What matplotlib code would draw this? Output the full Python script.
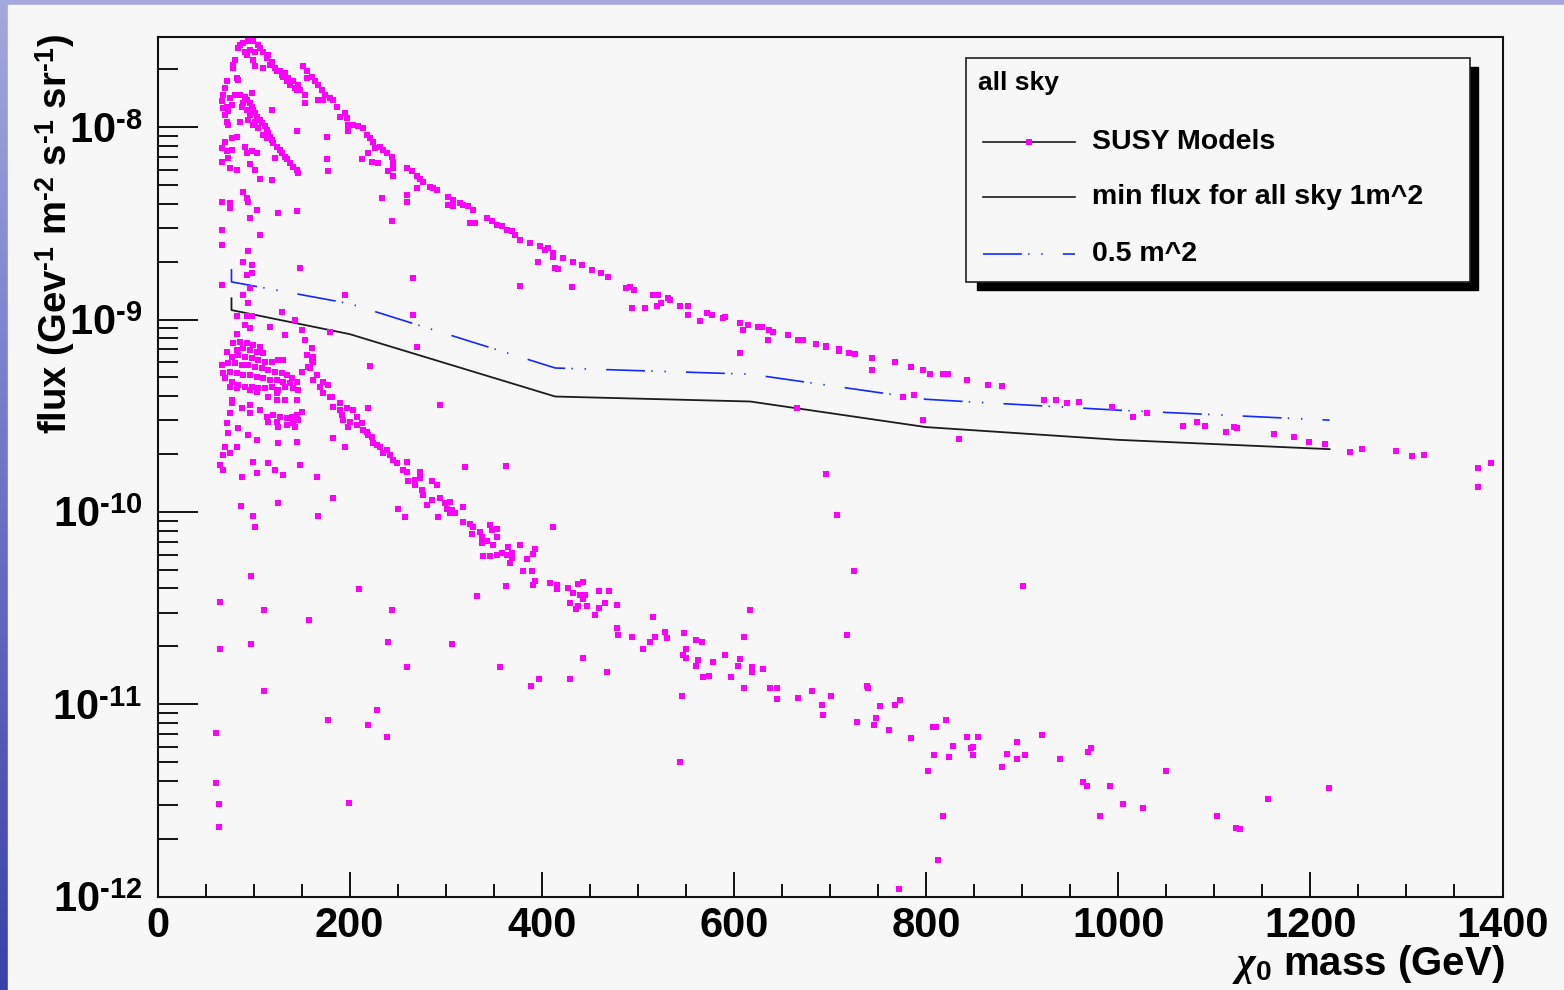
import numpy as np
import matplotlib
matplotlib.use("Agg")
import matplotlib.pyplot as plt
from matplotlib.patches import Rectangle
from matplotlib.lines import Line2D
from matplotlib.colors import LinearSegmentedColormap
from matplotlib.ticker import MultipleLocator, LogLocator, FuncFormatter, NullFormatter

plt.rcParams["font.family"] = ["Liberation Sans", "DejaVu Sans"]
plt.rcParams["font.weight"] = "bold"
plt.rcParams["mathtext.fontset"] = "custom"
plt.rcParams["mathtext.rm"] = "Liberation Sans:bold"
plt.rcParams["mathtext.bf"] = "Liberation Sans:bold"
plt.rcParams["mathtext.it"] = "Liberation Serif:italic"
plt.rcParams["lines.scale_dashes"] = False

# ---- SUSY model points (mass in GeV, flux in GeV^-1 m^-2 s^-1 sr^-1) ----
peak_mass = [84.1, 89.3, 94.5, 99.7, 104.9, 96.3, 101.5, 91.0, 110.1, 113.6,
             80.6, 92.8, 99.7, 118.8, 122.3, 127.5, 131.0, 136.2, 137.9, 143.1,
             148.3, 110.1, 101.5, 124.0, 132.7, 141.4, 146.6, 85.8, 106.7, 115.3,
             117.1, 129.2, 134.4, 144.9]
peak_flux = [2.58e-8, 2.74e-8, 2.81e-8, 2.79e-8, 2.68e-8, 2.52e-8, 2.47e-8, 2.47e-8, 2.47e-8, 2.29e-8,
             2.24e-8, 2.38e-8, 2.24e-8, 2.19e-8, 2.03e-8, 1.95e-8, 1.83e-8, 1.80e-8, 1.66e-8, 1.60e-8,
             1.56e-8, 2.03e-8, 2.07e-8, 1.95e-8, 1.91e-8, 1.73e-8, 1.66e-8, 2.68e-8, 2.58e-8, 2.38e-8,
             2.11e-8, 1.87e-8, 1.73e-8, 1.56e-8]

inner_mass = [80.6, 85.8, 91.0, 92.8, 96.3, 98.0, 99.7, 101.5, 103.2, 106.7,
              108.4, 111.9, 113.6, 115.3, 117.1, 118.8, 120.5, 124.0, 127.5, 129.2,
              132.7, 134.4, 137.9, 141.4, 144.9, 146.6, 99.7, 104.9, 110.1, 113.6,
              89.3, 92.8, 96.3, 98.0, 85.8, 118.8, 87.6, 94.5, 101.5]
inner_flux = [1.47e-8, 1.47e-8, 1.44e-8, 1.39e-8, 1.33e-8, 1.28e-8, 1.23e-8, 1.18e-8, 1.135e-8, 1.09e-8,
              1.05e-8, 1.01e-8, 9.7e-9, 9.3e-9, 8.9e-9, 8.6e-9, 8.3e-9, 7.9e-9, 7.6e-9, 7.3e-9,
              7.0e-9, 6.8e-9, 6.5e-9, 6.24e-9, 6.0e-9, 5.8e-9, 1.03e-8, 9.9e-9, 9.1e-9, 8.8e-9,
              1.33e-8, 1.23e-8, 1.16e-8, 1.50e-8, 1.07e-8, 1.23e-8, 1.28e-8, 1.09e-8, 1.07e-8]

left_mass = [72.0, 70.2, 68.5, 66.8, 68.5, 70.2, 72.0, 73.7, 78.9, 78.9,
             77.2, 75.4, 73.7, 72.0, 82.4, 84.1, 70.2, 77.2, 82.4, 66.8,
             72.0, 77.2, 73.7, 66.8, 75.4, 82.4, 91.0, 92.8, 98.0, 103.2,
             96.3, 101.5, 106.7, 118.8, 122.3, 89.3, 92.8, 94.5, 66.8, 75.4,
             75.4, 103.2, 96.3, 125.8, 144.9, 66.8, 106.7, 66.8, 94.5, 89.3,
             98.0, 92.8, 98.0, 66.8, 96.3, 89.3, 94.5, 129.2]
left_flux = [1.73e-8, 1.60e-8, 1.47e-8, 1.36e-8, 1.26e-8, 1.16e-8, 1.07e-8, 1.03e-8, 2.11e-8, 2.03e-8,
             1.31e-8, 1.42e-8, 1.21e-8, 1.28e-8, 1.80e-8, 1.76e-8, 8.4e-9, 8.8e-9, 8.9e-9, 7.8e-9,
             7.5e-9, 7.6e-9, 6.9e-9, 6.6e-9, 6.1e-9, 6.0e-9, 7.9e-9, 7.3e-9, 7.5e-9, 7.3e-9,
             6.4e-9, 6.0e-9, 5.4e-9, 5.3e-9, 6.9e-9, 4.62e-9, 4.27e-9, 4.10e-9, 4.10e-9, 4.03e-9,
             3.79e-9, 3.72e-9, 3.37e-9, 3.57e-9, 3.65e-9, 2.92e-9, 2.75e-9, 2.44e-9, 2.26e-9, 2.00e-9,
             1.92e-9, 1.71e-9, 1.74e-9, 1.51e-9, 1.46e-9, 1.34e-9, 1.22e-9, 1.10e-9]

arc_mass = [151.8, 155.2, 160.4, 163.9, 167.4, 170.9, 174.3, 179.5, 183.0, 167.4,
            172.6, 186.5, 190.0, 195.1, 196.9, 198.6, 203.8, 209.0, 214.2, 217.7,
            221.2, 224.6, 226.4, 231.6, 235.1, 238.5, 243.7, 245.5, 245.5, 240.3,
            245.5, 259.3, 264.5, 269.8, 273.2, 276.7, 283.6, 287.1, 290.6, 302.7,
            307.9, 314.9, 318.3, 323.5, 328.7, 302.7, 307.9, 325.3, 330.5, 342.6,
            347.8, 353.0, 358.3, 363.4, 368.6, 372.1, 377.3, 387.7, 398.1, 403.4,
            406.8, 396.4,
            411.3, 411.3, 421.7, 432.8, 441.5, 413.7, 417.2, 431.1, 451.9, 461.6,
            469.2, 487.6, 491.8, 496.3, 516.1, 521.3, 531.7, 533.4, 493.5, 507.8,
            519.5, 523.7, 543.8, 552.5, 552.5, 564.7, 571.6, 576.8, 588.3, 590.7,
            606.3, 615.0, 609.1, 625.4, 628.9, 636.8, 641.0, 635.1, 606.3, 656.6,
            667.0, 672.2, 685.4, 695.5, 695.5, 709.7, 709.7, 720.1, 726.0, 743.7,
            743.7, 767.7, 784.0, 796.5, 804.1, 818.0, 823.2, 842.3, 864.8, 878.7,
            776.3, 787.4, 665.3, 796.5, 834.6,
            923.2, 935.3, 947.1, 959.2, 993.9, 1015.8, 1029.7, 1067.9, 1082.1, 1090.4,
            1112.3, 1120.6, 1123.4, 1162.6, 1183.1, 1199.0, 1215.3, 1241.4, 1253.5, 1289.6,
            1305.9, 1318.0, 1374.3, 1388.5, 1374.3]
arc_flux = [2.07e-8, 1.95e-8, 1.83e-8, 1.73e-8, 1.66e-8, 1.56e-8, 1.47e-8, 1.42e-8, 1.39e-8, 1.39e-8,
            1.39e-8, 1.28e-8, 1.135e-8, 1.18e-8, 1.11e-8, 1.03e-8, 1.03e-8, 1.01e-8, 9.9e-9, 9.1e-9,
            8.8e-9, 8.4e-9, 7.8e-9, 7.9e-9, 7.6e-9, 7.3e-9, 7.0e-9, 6.6e-9, 6.1e-9, 5.9e-9,
            5.6e-9, 6.1e-9, 5.9e-9, 5.6e-9, 5.4e-9, 5.2e-9, 4.9e-9, 4.8e-9, 4.7e-9, 4.36e-9,
            4.19e-9, 4.03e-9, 3.94e-9, 3.87e-9, 3.72e-9, 3.94e-9, 3.87e-9, 3.17e-9, 3.17e-9, 3.37e-9,
            3.24e-9, 3.10e-9, 3.05e-9, 2.92e-9, 2.87e-9, 2.75e-9, 2.59e-9, 2.49e-9, 2.40e-9, 2.30e-9,
            2.35e-9, 2.00e-9,
            2.21e-9, 2.12e-9, 2.10e-9, 1.98e-9, 1.92e-9, 1.85e-9, 1.84e-9, 1.48e-9, 1.80e-9, 1.75e-9,
            1.67e-9, 1.46e-9, 1.48e-9, 1.43e-9, 1.34e-9, 1.34e-9, 1.29e-9, 1.27e-9, 1.15e-9, 1.15e-9,
            1.17e-9, 1.22e-9, 1.17e-9, 1.18e-9, 1.06e-9, 9.8e-10, 1.08e-9, 1.06e-9, 1.02e-9, 1.03e-9,
            9.6e-10, 9.4e-10, 8.8e-10, 9.2e-10, 9.1e-10, 8.8e-10, 8.6e-10, 7.8e-10, 6.7e-10, 8.3e-10,
            7.8e-10, 7.8e-10, 7.5e-10, 7.3e-10, 7.2e-10, 7.0e-10, 6.9e-10, 6.7e-10, 6.6e-10, 6.3e-10,
            5.5e-10, 6.0e-10, 5.7e-10, 5.5e-10, 5.2e-10, 5.2e-10, 5.2e-10, 4.86e-10, 4.59e-10, 4.49e-10,
            3.98e-10, 4.07e-10, 3.46e-10, 3.0e-10, 2.39e-10,
            3.82e-10, 3.82e-10, 3.67e-10, 3.74e-10, 3.52e-10, 3.13e-10, 3.26e-10, 2.81e-10, 2.94e-10, 2.81e-10,
            2.61e-10, 2.77e-10, 2.72e-10, 2.55e-10, 2.44e-10, 2.30e-10, 2.25e-10, 2.04e-10, 2.12e-10, 2.08e-10,
            1.96e-10, 1.97e-10, 1.70e-10, 1.80e-10, 1.34e-10]

blob_mass = [82.4, 92.8, 98.0, 91.1, 96.3, 117.1, 143.1, 150.1, 132.7, 153.6, 179.6, 83.1,
             79.0, 85.9, 92.8, 99.8, 106.7, 82.4, 89.4, 96.3, 103.2, 110.2,
             72.0, 77.2, 84.2, 91.1, 98.0, 105.0, 111.9, 118.9, 125.8, 131.0,
             66.8, 73.7, 80.7, 87.6, 94.6, 101.5, 108.4, 115.4, 122.3, 129.3, 134.5, 139.7, 144.9,
             68.5, 75.5, 82.4, 89.4, 96.3, 103.2, 110.2, 117.1, 124.1, 131.0, 137.9, 141.4, 146.6,
             70.3, 77.2, 84.2, 91.1, 98.0, 105.0, 111.9, 118.9, 125.8, 132.7,
             75.5, 82.4, 96.3, 103.2, 124.1,
             77.2, 77.2, 87.6, 96.3, 106.7, 115.4, 124.1, 132.7, 144.9, 96.3,
             75.5, 72.0, 73.7, 70.3, 84.2, 94.6, 103.2, 113.7, 120.6, 127.5,
             134.5, 139.7, 144.9, 150.1, 115.4, 124.1, 134.5, 141.4, 146.6, 125.8,
             143.1, 125.8, 144.9, 82.4, 75.5, 68.5, 65.1, 68.5, 99.8, 115.4,
             122.3, 131.0, 148.4, 103.2, 87.6,
             155.3, 160.5, 157.0, 162.2, 150.1, 165.7, 162.2, 169.2, 172.6, 181.3,
             183.1, 190.0, 196.9, 193.5, 198.7, 195.2, 183.1, 165.7, 160.5,
             162.2, 158.8, 172.6, 177.8, 179.6, 190.0, 191.7, 200.4]
blob_flux = [1.04e-9, 1.04e-9, 1.04e-9, 9.4e-10, 9.0e-10, 9.2e-10, 9.95e-10, 8.8e-10, 8.3e-10, 7.8e-10, 8.6e-10, 8.4e-10,
             7.53e-10, 7.67e-10, 7.53e-10, 7.38e-10, 7.23e-10, 6.95e-10, 7.10e-10, 6.95e-10, 6.81e-10, 6.68e-10,
             6.81e-10, 6.41e-10, 6.55e-10, 6.41e-10, 6.30e-10, 6.17e-10, 6.04e-10, 6.04e-10, 6.17e-10, 6.17e-10,
             5.81e-10, 5.93e-10, 5.93e-10, 5.81e-10, 5.81e-10, 5.69e-10, 5.58e-10, 5.47e-10, 5.36e-10, 5.26e-10, 5.15e-10, 4.95e-10, 4.75e-10,
             5.26e-10, 5.36e-10, 5.26e-10, 5.15e-10, 5.15e-10, 5.05e-10, 4.95e-10, 4.85e-10, 4.85e-10, 4.75e-10, 4.67e-10, 4.40e-10, 4.31e-10,
             4.95e-10, 4.75e-10, 4.57e-10, 4.48e-10, 4.48e-10, 4.40e-10, 4.40e-10, 4.48e-10, 4.31e-10, 4.48e-10,
             4.48e-10, 4.40e-10, 4.31e-10, 4.22e-10, 4.14e-10,
             3.82e-10, 3.67e-10, 3.46e-10, 3.60e-10, 3.39e-10, 3.97e-10, 3.82e-10, 3.82e-10, 3.82e-10, 3.26e-10,
             3.26e-10, 2.89e-10, 2.56e-10, 2.18e-10, 2.72e-10, 2.51e-10, 2.37e-10, 3.13e-10, 3.19e-10, 3.13e-10,
             3.07e-10, 3.13e-10, 3.19e-10, 3.32e-10, 2.94e-10, 2.94e-10, 2.83e-10, 2.89e-10, 3.01e-10, 2.77e-10,
             2.77e-10, 2.28e-10, 2.32e-10, 2.18e-10, 2.02e-10, 1.98e-10, 1.75e-10, 1.65e-10, 1.82e-10, 1.79e-10,
             1.65e-10, 1.56e-10, 1.75e-10, 1.59e-10, 1.52e-10,
             6.55e-10, 6.17e-10, 5.69e-10, 6.41e-10, 5.36e-10, 5.15e-10, 4.85e-10, 4.48e-10, 4.14e-10, 3.97e-10,
             3.53e-10, 3.39e-10, 3.46e-10, 3.01e-10, 2.77e-10, 2.18e-10, 2.42e-10, 1.52e-10, 7.10e-10,
             6.04e-10, 5.58e-10, 4.75e-10, 4.57e-10, 3.97e-10, 3.67e-10, 3.19e-10, 2.94e-10]

tail_mass = [203.9, 207.3, 207.3, 214.3, 219.5, 223.0, 224.7, 231.6, 235.1, 242.0,
             249.0, 259.4, 255.9, 228.2, 238.6, 245.5, 217.8, 212.5,
             259.3, 273.2, 261.1, 268.0, 268.0, 273.2, 285.4, 290.6, 275.0, 276.7,
             280.2, 285.4, 294.0, 299.2, 304.5, 301.0, 306.2, 309.7, 304.5, 318.3,
             257.6, 292.3, 318.3, 325.3, 328.7, 327.0, 335.7, 337.4, 346.1, 347.8,
             353.0, 353.0, 342.6, 337.4, 349.6, 365.2, 377.3, 339.2, 346.1, 353.0,
             358.2, 363.4, 368.6, 368.6, 366.9, 392.9, 391.2, 384.3, 411.3, 380.8,
             389.5, 392.9, 391.2, 362.7, 332.9, 408.6, 415.5, 415.5, 427.6, 432.8,
             438.0, 443.2, 439.8, 445.0, 443.2, 429.4, 438.0, 435.6, 447.4, 459.9,
             470.0, 465.8, 459.9, 455.7, 477.9, 477.9, 479.7, 493.9, 505.7, 512.6,
             518.2, 516.1, 528.3, 530.0, 548.4, 550.1, 546.7, 550.1, 560.5, 566.4,
             563.0, 560.5, 578.6, 590.7, 606.3, 604.6, 610.9, 616.7, 618.5, 618.5,
             630.6, 568.2, 574.4, 596.6, 610.9, 637.6, 644.5, 645.2, 667.1, 681.3,
             691.4, 693.1, 701.4, 717.4, 725.4, 707.6, 695.5, 727.8, 738.2, 740.0,
             745.9, 747.9, 752.1, 761.8, 767.7, 772.9, 546.3, 544.2, 306.2, 260.0,
             356.5, 397.4, 388.8, 429.4, 443.2, 467.5,
             784.0, 807.6, 810.4, 820.5, 808.3, 802.4, 824.3, 828.4, 842.3, 854.5,
             846.5, 848.6, 848.6, 818.0, 812.1, 771.9, 878.8, 884.7, 894.7, 894.7,
             903.0, 900.6, 921.1, 939.5, 963.8, 968.0, 969.0, 971.4, 991.5, 981.1,
             1005.4, 1026.2, 1049.8, 1102.6, 1122.7, 1126.9, 1156.4, 1219.2]
tail_flux = [3.39e-10, 3.13e-10, 2.83e-10, 2.67e-10, 2.51e-10, 2.46e-10, 2.27e-10, 2.18e-10, 2.02e-10, 1.98e-10,
             1.79e-10, 1.82e-10, 1.65e-10, 2.23e-10, 2.10e-10, 1.86e-10, 2.61e-10, 2.89e-10,
             1.62e-10, 1.62e-10, 1.44e-10, 1.47e-10, 1.38e-10, 1.50e-10, 1.44e-10, 1.38e-10, 1.30e-10, 1.22e-10,
             1.09e-10, 1.15e-10, 1.18e-10, 1.11e-10, 1.13e-10, 1.04e-10, 1.02e-10, 9.84e-11, 9.84e-11, 1.06e-10,
             9.45e-11, 9.45e-11, 8.9e-11, 8.7e-11, 8.4e-11, 7.7e-11, 7.9e-11, 7.4e-11, 8.55e-11, 8.05e-11,
             8.2e-11, 7.4e-11, 7.1e-11, 6.9e-11, 6.7e-11, 6.6e-11, 6.7e-11, 5.9e-11, 5.9e-11, 5.97e-11,
             6.1e-11, 5.97e-11, 6.1e-11, 5.74e-11, 5.45e-11, 6.4e-11, 6.04e-11, 5.67e-11, 8.4e-11, 4.95e-11,
             4.95e-11, 4.4e-11, 4.17e-11, 4.12e-11, 3.66e-11, 4.29e-11, 4.17e-11, 3.96e-11, 4.04e-11, 3.8e-11,
             4.2e-11, 4.3e-11, 3.7e-11, 3.7e-11, 3.52e-11, 3.38e-11, 3.24e-11, 3.12e-11, 3.24e-11, 3.88e-11,
             3.88e-11, 3.38e-11, 3.16e-11, 2.91e-11, 3.28e-11, 2.48e-11, 2.29e-11, 2.25e-11, 1.95e-11, 2.11e-11,
             2.25e-11, 2.83e-11, 2.38e-11, 2.2e-11, 2.34e-11, 1.95e-11, 1.80e-11, 1.75e-11, 2.16e-11, 2.12e-11,
             1.69e-11, 1.59e-11, 1.66e-11, 1.8e-11, 1.73e-11, 1.59e-11, 2.25e-11, 3.09e-11, 1.56e-11, 1.47e-11,
             1.53e-11, 1.38e-11, 1.40e-11, 1.38e-11, 1.22e-11, 1.22e-11, 1.22e-11, 1.06e-11, 1.08e-11, 1.17e-11,
             9.95e-12, 8.83e-12, 1.10e-11, 2.29e-11, 4.95e-11, 9.6e-11, 1.57e-10, 8.1e-12, 1.24e-11, 1.22e-11,
             7.8e-12, 8.45e-12, 9.8e-12, 7.35e-12, 9.95e-12, 1.05e-11, 1.10e-11, 5.0e-12, 2.07e-11, 1.56e-11,
             1.56e-11, 1.35e-11, 1.24e-11, 1.35e-11, 1.75e-11, 1.47e-11,
             6.65e-12, 7.6e-12, 7.6e-12, 8.3e-12, 5.42e-12, 4.5e-12, 5.3e-12, 6.1e-12, 6.8e-12, 6.8e-12,
             5.9e-12, 6.0e-12, 5.42e-12, 2.62e-12, 1.55e-12, 1.09e-12, 4.7e-12, 5.53e-12, 6.37e-12, 5.2e-12,
             5.42e-12, 4.12e-11, 6.92e-12, 5.2e-12, 3.93e-12, 3.77e-12, 5.65e-12, 5.9e-12, 3.77e-12, 2.62e-12,
             3.02e-12, 2.9e-12, 4.5e-12, 2.62e-12, 2.28e-12, 2.24e-12, 3.21e-12, 3.68e-12]

stray_mass = [155.2, 153.5, 153.5, 144.9, 176.1, 176.1, 177.8, 198.6, 212.5, 222.9,
              229.8, 219.4, 233.3, 243.7, 259.3, 259.3, 269.8, 266.3, 377.3, 195.1,
              148.3, 266.3, 269.8, 221.2, 294.1, 219.5, 320.1, 362.8, 183.0, 86.6,
              125.1, 99.1, 101.5, 167.4, 250.0, 97.3, 65.1, 111.2, 157.7, 209.8,
              244.1, 97.0, 240.0, 65.1, 111.2, 60.9, 177.8, 219.4, 228.1, 238.6,
              60.9, 64.4, 64.4, 199.7]
stray_flux = [1.80e-8, 1.47e-8, 1.33e-8, 9.5e-9, 8.9e-9, 6.8e-9, 5.9e-9, 9.5e-9, 6.8e-9, 6.6e-9,
              6.5e-9, 7.3e-9, 4.27e-9, 3.24e-9, 4.45e-9, 4.10e-9, 4.8e-9, 1.64e-9, 1.49e-9, 1.34e-9,
              1.85e-9, 1.06e-9, 7.2e-10, 5.74e-10, 3.6e-10, 3.46e-10, 1.71e-10, 1.74e-10, 1.18e-10, 1.07e-10,
              1.11e-10, 9.5e-11, 8.4e-11, 9.5e-11, 1.04e-10, 4.65e-11, 3.42e-11, 3.09e-11, 2.74e-11, 3.96e-11,
              3.09e-11, 2.07e-11, 2.11e-11, 1.93e-11, 1.17e-11, 7.06e-12, 8.3e-12, 7.8e-12, 9.35e-12, 6.8e-12,
              3.92e-12, 3.02e-12, 2.31e-12, 3.08e-12]

# ---- sensitivity curves ----
min1_mass = [77, 77, 200, 414, 617, 800, 1000, 1220]
min1_flux = [1.29e-9, 1.12e-9, 8.4e-10, 3.98e-10, 3.75e-10, 2.76e-10, 2.37e-10, 2.12e-10]
min05_mass = [77, 77, 200, 414, 617, 800, 1000, 1220]
min05_flux = [1.83e-9, 1.57e-9, 1.21e-9, 5.6e-10, 5.2e-10, 3.85e-10, 3.38e-10, 3.0e-10]

legend_labels = ["SUSY Models", "min flux for all sky 1m^2", "0.5 m^2"]

W, H = 1564, 990
MAGENTA = "#ff00ff"
BLUE = "#1428ff"
PAD = "#f7f7f7"
DASH = (28, 4.5, 1, 8.5, 1, 14.5)
MS = 5.0
HYPH = "\u2010"


def fx(x):
    return x / W


def fy(y):
    return 1 - y / H


def decade_label(v, pos):
    return "$10^{" + HYPH + "%d}$" % abs(round(np.log10(v)))


fig = plt.figure(figsize=(W / 100, H / 100), dpi=100)

# slide background + pad
bg = fig.add_axes([0, 0, 1, 1], zorder=-10)
grad = np.linspace(0, 1, 256).reshape(-1, 1)
cmap = LinearSegmentedColormap.from_list("slide", ["#a4a8dc", "#6d72c6", "#3b40a8"])
bg.imshow(grad, aspect="auto", cmap=cmap, extent=[0, 1, 0, 1])
bg.add_patch(Rectangle((fx(8), 0), 1 - fx(8), fy(5), color=PAD))
bg.set_xlim(0, 1)
bg.set_ylim(0, 1)
bg.axis("off")

ax = fig.add_axes([fx(157.5), fy(896.7), fx(1502.5) - fx(157.5), fy(36.5) - fy(896.7)])
ax.set_facecolor(PAD)

ax.plot(min1_mass, min1_flux, color="#1c1c1c", lw=1.3, zorder=2)
ax.plot(min05_mass, min05_flux, color=BLUE, lw=1.2, dashes=DASH, zorder=2)

for m, f in [(peak_mass, peak_flux), (inner_mass, inner_flux), (left_mass, left_flux),
             (arc_mass, arc_flux), (blob_mass, blob_flux), (tail_mass, tail_flux),
             (stray_mass, stray_flux)]:
    ax.plot(m, f, "s", ms=MS, mew=0, color=MAGENTA, zorder=3)

ax.set_yscale("log")
ax.set_xlim(0, 1400)
ax.set_ylim(1e-12, 2.96e-8)

ax.xaxis.set_major_locator(MultipleLocator(200))
ax.xaxis.set_minor_locator(MultipleLocator(50))
ax.xaxis.set_major_formatter(FuncFormatter(lambda v, p: f"{v:.0f}"))
ax.yaxis.set_major_locator(LogLocator(base=10, numticks=20))
ax.yaxis.set_minor_locator(LogLocator(base=10, subs=np.arange(2, 10), numticks=20))
ax.yaxis.set_major_formatter(FuncFormatter(decade_label))
ax.yaxis.set_minor_formatter(NullFormatter())

ax.tick_params(which="both", direction="in", top=False, right=False, width=1.4, color="#111111")
ax.tick_params(axis="x", which="major", length=18, pad=7, labelsize=30)
ax.tick_params(axis="x", which="minor", length=9.4)
ax.tick_params(axis="y", which="major", length=29, pad=11, labelsize=30)
ax.tick_params(axis="y", which="minor", length=14.4)
for s in ax.spines.values():
    s.set_linewidth(1.5)
    s.set_color("#111111")

# axis titles
ylab = "flux (Gev$^{%s1}$ m$^{%s2}$ s$^{%s1}$ sr$^{%s1}$)" % (HYPH, HYPH, HYPH, HYPH)
fig.text(fx(55), fy(34), ylab, rotation=90, ha="center", va="top", fontsize=27.5)
fig.text(fx(1505), fy(975), r"$\chi_{0}$ mass (GeV)", ha="right", va="baseline", fontsize=29)

# legend box with ROOT-style shadow
fig.add_artist(Rectangle((fx(977), fy(289.5)), fx(1478) - fx(977), fy(67) - fy(289.5),
                         transform=fig.transFigure, color="black", zorder=5))
fig.add_artist(Rectangle((fx(966.5), fy(282.3)), fx(1470.4) - fx(966.5), fy(58.3) - fy(282.3),
                         transform=fig.transFigure, facecolor=PAD, edgecolor="#222222",
                         lw=1.2, zorder=6))
fig.text(fx(978), fy(83), "all sky", va="center", fontsize=19, zorder=7)

rows = [141.7, 196.7, 254.0]
fig.add_artist(Line2D([fx(983), fx(1075)], [fy(rows[0])] * 2, transform=fig.transFigure,
                      color="#1c1c1c", lw=1.2, zorder=7))
fig.add_artist(Line2D([fx(1029)], [fy(rows[0])], transform=fig.transFigure, marker="s",
                      ms=MS, mew=0, color=MAGENTA, zorder=8))
fig.add_artist(Line2D([fx(983), fx(1075)], [fy(rows[1])] * 2, transform=fig.transFigure,
                      color="#1c1c1c", lw=1.2, zorder=7))
fig.add_artist(Line2D([fx(983), fx(1075)], [fy(rows[2])] * 2, transform=fig.transFigure,
                      color=BLUE, lw=1.2, dashes=DASH, zorder=7))
for label, y in zip(legend_labels, rows):
    fig.text(fx(1092), fy(y), label, va="center", fontsize=20.5, zorder=7)

fig.savefig("out.png", dpi=100, facecolor="#6d72c6")
